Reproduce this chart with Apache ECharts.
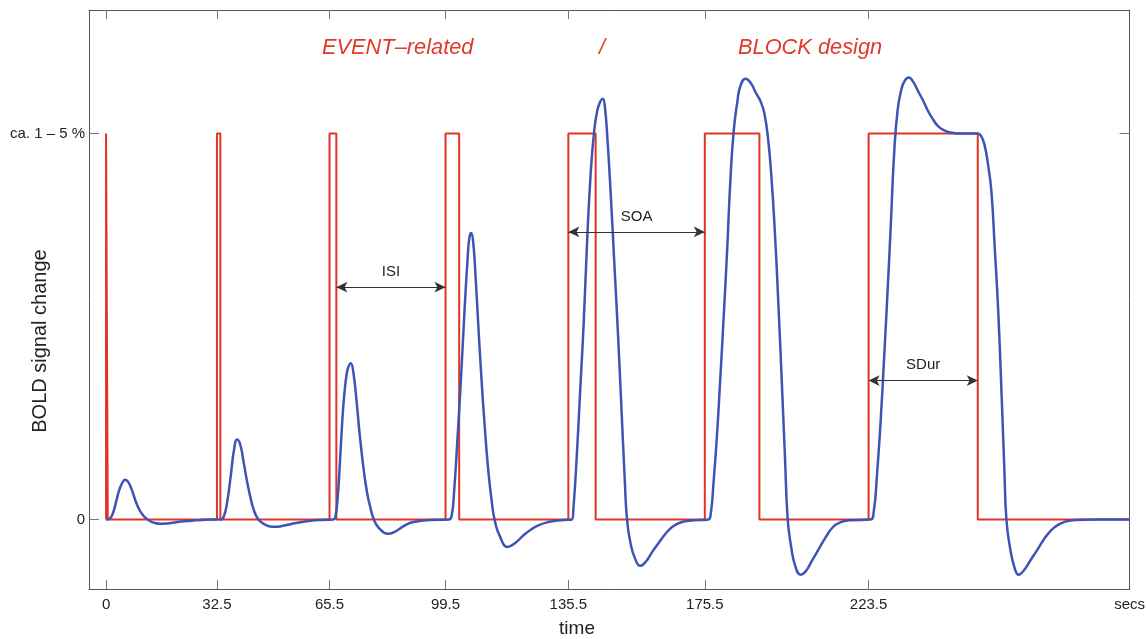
<!DOCTYPE html>
<html>
<head>
<meta charset="utf-8">
<script src="https://cdn.jsdelivr.net/npm/echarts@6/dist/echarts.min.js"></script>
<style>
html,body{margin:0;padding:0;background:#fff;}
#chart{width:1148px;height:639px;}
</style>
</head>
<body>
<div id="chart"></div>
<script>
// Stimulus design (boxcar): onset times and durations in seconds
const onsets = [0, 32.5, 65.5, 99.5, 135.5, 175.5, 223.5];
const durations = [0.5, 1, 2, 4, 8, 16, 32];
const stimulusEnd = 300;

// BOLD response
const boldTimes = [
  0,1,2,3,4,5,5.6,6.5,7.5,8.5,9.5,10.5,11.5,12.5,14,16,18,20,22,25,28,31,33.5,
  34.5,35.5,36.5,37.5,38.4,39.3,40.3,41.3,42.3,43.3,44.5,46,48,49.5,51.5,54,57,60,63,66.5,
  67.2,68,68.5,69,69.5,70,70.5,71,71.7,72.5,73.5,74.3,75.5,76.5,77.5,78.5,80,82.6,85,88,91,95,100.5,
  101.3,102,103,104,105,106,106.5,107,107.6,108.3,109,110,111,112,113,114,115.5,117.7,120,123,126.5,130,134,136.5,
  137,138,139,140,141,142,143,144,145,145.6,146.2,147,148,149,150,151,152,152.7,153.7,155,156.6,158.3,160,162,164,166,168,171,176.5,
  177.3,178,179,180,181,182,183,184,185,186,187.5,189,190.5,192,193,194,195,196,197,198,199,199.8,200.8,202,203.6,205,207,209,211,213,215,218,224,
  225,226,227,228,229,230,231,232,233,234,235.3,236.5,238,239.5,241,242.5,244,246,248,250,255.5,256.5,257.5,258.5,259.5,260.5,261.5,262.5,263.3,263.9,265,266.3,267.5,269,271,273,275,277,279,281,284,290,300
];
const boldValues = [
  0,0.002,0.016,0.048,0.080,0.099,0.103,0.097,0.078,0.052,0.030,0.015,0.005,-0.002,-0.008,-0.011,-0.010,-0.008,-0.005,-0.003,-0.001,0,0,
  0.008,0.045,0.11,0.18,0.207,0.195,0.15,0.10,0.058,0.025,0.002,-0.010,-0.018,-0.019,-0.017,-0.012,-0.007,-0.003,-0.001,0,
  0.005,0.07,0.14,0.22,0.29,0.34,0.375,0.395,0.405,0.38,0.30,0.224,0.13,0.07,0.03,0.0,-0.022,-0.037,-0.030,-0.013,-0.005,-0.001,0,
  0.01,0.07,0.21,0.36,0.53,0.68,0.73,0.742,0.72,0.63,0.52,0.37,0.24,0.13,0.05,-0.005,-0.045,-0.071,-0.06,-0.036,-0.016,-0.006,-0.001,0,
  0.03,0.17,0.34,0.51,0.72,0.89,1.0,1.06,1.085,1.09,1.07,0.98,0.83,0.66,0.49,0.30,0.11,0.0,-0.06,-0.10,-0.12,-0.108,-0.085,-0.06,-0.037,-0.019,-0.009,-0.003,0,
  0.02,0.09,0.21,0.36,0.52,0.69,0.88,1.01,1.08,1.125,1.142,1.13,1.105,1.08,1.05,0.99,0.89,0.75,0.57,0.37,0.16,0.0,-0.07,-0.12,-0.143,-0.135,-0.105,-0.075,-0.045,-0.02,-0.008,-0.002,0,
  0.02,0.12,0.25,0.41,0.58,0.76,0.95,1.06,1.11,1.135,1.145,1.135,1.11,1.085,1.057,1.035,1.018,1.007,1.002,1.0,1.0,0.993,0.97,0.92,0.85,0.70,0.54,0.32,0.13,0.0,-0.075,-0.125,-0.143,-0.132,-0.105,-0.078,-0.05,-0.028,-0.014,-0.006,-0.001,0,0
];

// Axis ticks / labels
const xTickValues = [0, 32.5, 65.5, 99.5, 135.5, 175.5, 223.5];
const xLabelValues = [0, 32.5, 65.5, 99.5, 135.5, 175.5, 223.5, 300];
const xLabelTexts = ['0', '32.5', '65.5', '99.5', '135.5', '175.5', '223.5', 'secs'];
const yTickValues = [0, 1];
const yLabelTexts = ['0', 'ca. 1 \u2013 5 %'];

// Annotation arrows
const annNames = ['ISI', 'SOA', 'SDur'];
const annFrom = [67.5, 135.5, 223.5];
const annTo = [99.5, 175.5, 255.5];
const annLevel = [0.602, 0.745, 0.36];

// Build the boxcar from onsets/durations
const stimData = [];
onsets.forEach((on, i) => {
  stimData.push([on, 0], [on, 1], [on + durations[i], 1], [on + durations[i], 0]);
});
stimData.push([stimulusEnd, 0]);

const boldData = boldTimes.map((t, i) => [t, boldValues[i]]);

const FONT = '"Liberation Sans", Arial, Helvetica, sans-serif';
const RED = '#e23426';
const BLUE = '#3e54b4';

const chart = echarts.init(document.getElementById('chart'), null, {renderer: 'canvas'});

const commonX = {
  type: 'value', min: -5, max: 300,
  axisLine: {show: true, onZero: false, lineStyle: {color: '#555', width: 1}},
  splitLine: {show: false}
};
const commonY = {
  type: 'value', min: -0.18, max: 1.32,
  axisLine: {show: true, onZero: false, lineStyle: {color: '#555', width: 1}},
  splitLine: {show: false}
};

chart.setOption({
  animation: false,
  backgroundColor: '#fff',
  grid: {left: 89, right: 17, top: 10, bottom: 50, containLabel: false},
  xAxis: [
    Object.assign({}, commonX, {
      position: 'bottom',
      axisTick: {show: true, inside: true, length: 9, customValues: xTickValues, lineStyle: {color: '#777'}},
      axisLabel: {show: true, margin: 8, customValues: xLabelValues, color: '#222', fontSize: 15, fontFamily: FONT,
        formatter: v => { const k = xLabelValues.indexOf(v); return k >= 0 ? xLabelTexts[k] : ''; }}
    }),
    Object.assign({}, commonX, {
      position: 'top',
      axisTick: {show: true, inside: true, length: 9, customValues: xTickValues, lineStyle: {color: '#777'}},
      axisLabel: {show: false}
    })
  ],
  yAxis: [
    Object.assign({}, commonY, {
      position: 'left',
      axisTick: {show: true, inside: true, length: 10, customValues: yTickValues, lineStyle: {color: '#777'}},
      axisLabel: {show: true, margin: 4, customValues: yTickValues, color: '#222', fontSize: 15, fontFamily: FONT,
        formatter: v => { const k = yTickValues.indexOf(v); return k >= 0 ? yLabelTexts[k] : ''; }}
    }),
    Object.assign({}, commonY, {
      position: 'right',
      axisTick: {show: true, inside: true, length: 10, customValues: yTickValues, lineStyle: {color: '#777'}},
      axisLabel: {show: false}
    })
  ],
  series: [
    {
      name: 'stimulus', type: 'line', xAxisIndex: 0, yAxisIndex: 0,
      data: stimData, showSymbol: false, symbol: 'none', z: 2,
      lineStyle: {color: RED, width: 2},
      markLine: {
        silent: true,
        symbol: ['arrow', 'arrow'],
        symbolSize: [8, 11],
        lineStyle: {color: '#333', width: 1, type: 'solid'},
        label: {show: true, position: 'insideMiddleTop', distance: 8, formatter: '{b}', color: '#222', fontSize: 15, fontFamily: FONT},
        emphasis: {disabled: true},
        data: annNames.map((n, i) => [
          {name: n, coord: [annFrom[i], annLevel[i]]},
          {coord: [annTo[i], annLevel[i]]}
        ])
      }
    },
    {
      name: 'BOLD', type: 'line', xAxisIndex: 0, yAxisIndex: 0,
      data: boldData, showSymbol: false, symbol: 'none', z: 3,
      smooth: 0.5,
      lineStyle: {color: BLUE, width: 2.5}
    }
  ],
  graphic: [
    {type: 'text', x: 322, y: 48, style: {text: 'EVENT\u2013related', fill: '#e03a2c', font: 'italic 21.8px ' + FONT, verticalAlign: 'middle'}},
    {type: 'text', x: 599, y: 48, style: {text: '/', fill: '#e03a2c', font: 'italic 21.8px ' + FONT, verticalAlign: 'middle'}},
    {type: 'text', x: 738, y: 48, style: {text: 'BLOCK design', fill: '#e03a2c', font: 'italic 21.8px ' + FONT, verticalAlign: 'middle'}},
    {type: 'text', x: 40, y: 341, rotation: Math.PI / 2, style: {text: 'BOLD signal change', fill: '#222', font: '20px ' + FONT, align: 'center', verticalAlign: 'middle'}},
    {type: 'text', x: 577, y: 629, style: {text: 'time', fill: '#222', font: '19px ' + FONT, align: 'center', verticalAlign: 'middle'}}
  ]
});
</script>
</body>
</html>
